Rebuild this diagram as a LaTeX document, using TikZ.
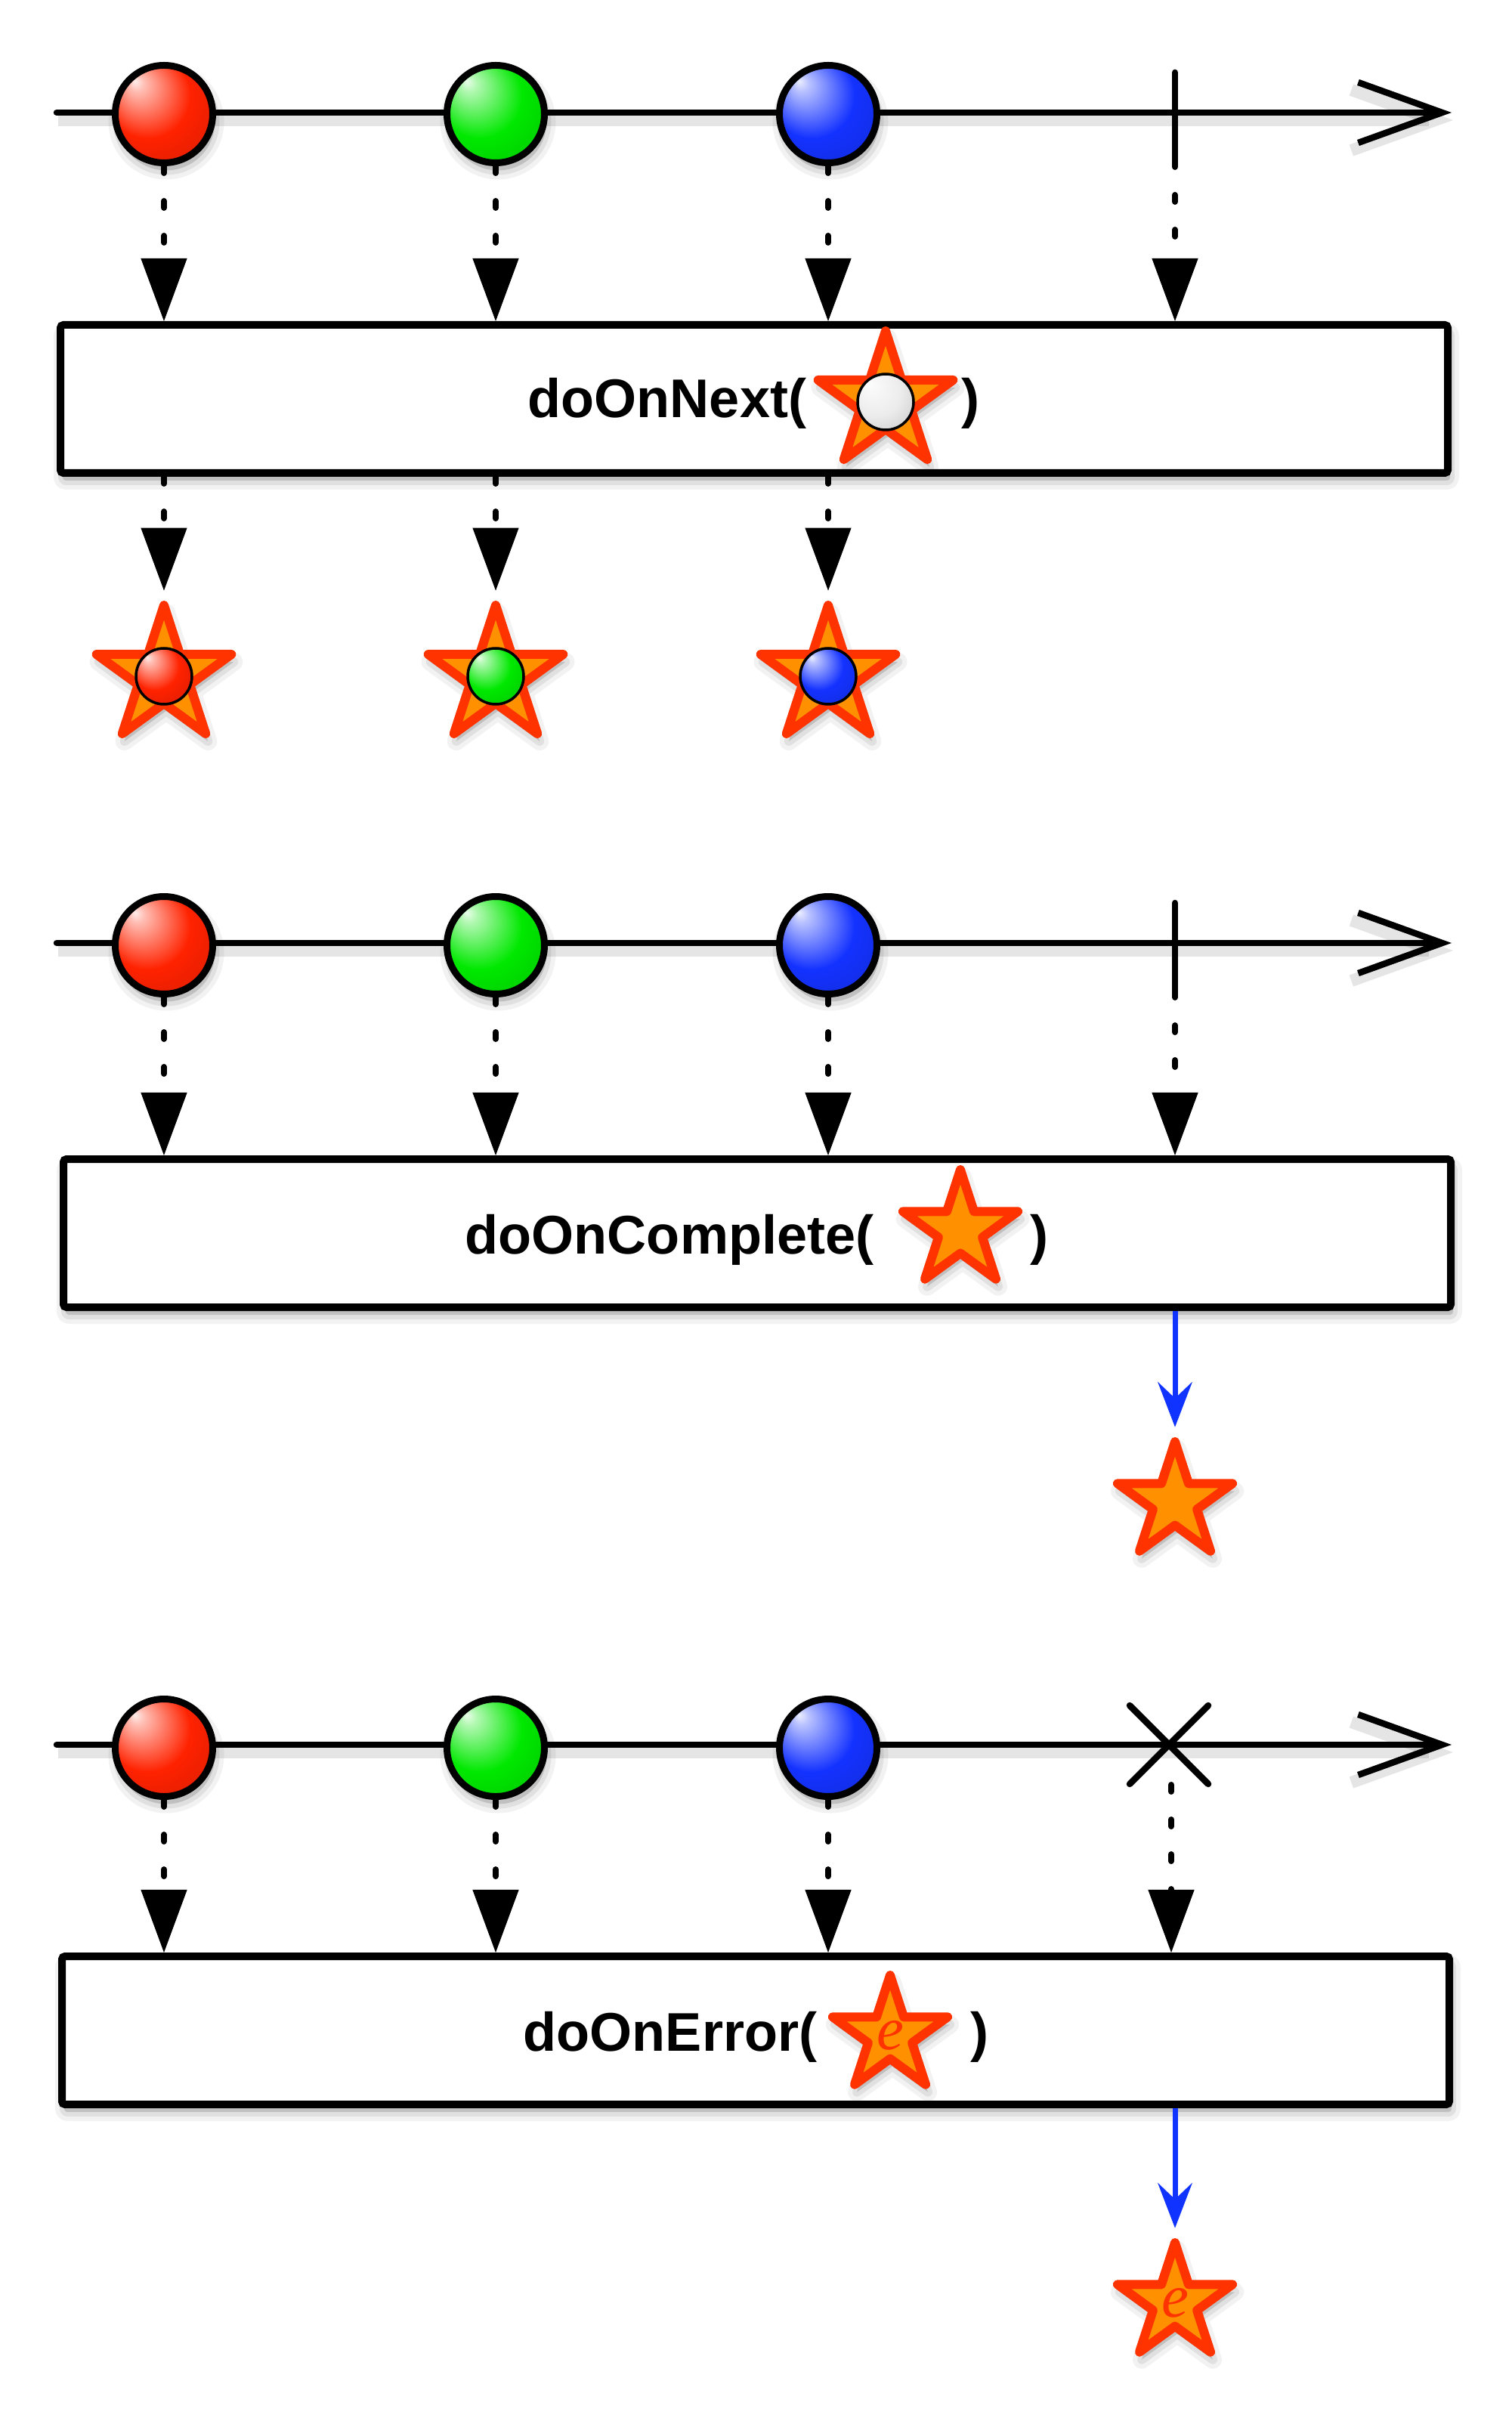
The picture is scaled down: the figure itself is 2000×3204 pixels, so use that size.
\documentclass[tikz,border=0pt]{standalone}
\usepackage{fontspec}
\newfontfamily\lblfont{Liberation Sans}
\newfontfamily\efont{Liberation Serif}
\usetikzlibrary{arrows.meta,shapes.geometric}
\newlength\pxu
\setlength\pxu{0.01cm}
\definecolor{ballred}{RGB}{255,34,0}
\definecolor{ballgreen}{RGB}{0,232,0}
\definecolor{ballblue}{RGB}{20,50,255}
\definecolor{ballwhite}{RGB}{236,236,236}
\definecolor{starred}{RGB}{255,51,0}
\definecolor{starorange}{RGB}{255,145,0}
\definecolor{arrowblue}{RGB}{17,51,255}
\colorlet{ballc}{red}
\pgfdeclareradialshading[ballc]{glossyball}{\pgfqpoint{-15bp}{17bp}}{%
  color(0bp)=(ballc!8!white); color(4bp)=(ballc!30!white); color(22bp)=(ballc);
  color(40bp)=(ballc!85!black); color(50bp)=(ballc!62!black)}
\tikzset{
  softshadow/.style={
    preaction={draw=black, draw opacity=0.05, line width=24\pxu, line join=round,
      transform canvas={xshift=3\pxu, yshift=-10\pxu}},
    preaction={draw=black, draw opacity=0.07, line width=12\pxu, line join=round,
      fill=black, fill opacity=0.14, transform canvas={xshift=3\pxu, yshift=-10\pxu}}},
  lineshadow/.style={preaction={draw=black, draw opacity=0.10, line width=16\pxu,
      transform canvas={xshift=2\pxu, yshift=-10\pxu}}},
  timeline/.style={line width=8.5\pxu, line cap=round, lineshadow,
    -{Straight Barb[length=1.11cm, width=0.8cm]}},
  tickline/.style={line width=8.5\pxu, line cap=round},
  ball/.style={circle, draw=black, line width=9\pxu, minimum size=129\pxu, inner sep=0pt,
    shade, shading=glossyball, /utils/exec={\colorlet{ballc}{#1}}, softshadow},
  smallball/.style={circle, draw=black, line width=3.5\pxu, minimum size=74\pxu, inner sep=0pt,
    shade, shading=glossyball, /utils/exec={\colorlet{ballc}{#1}}},
  starbase/.style={star, star points=5, star point ratio=2.618, inner sep=0pt,
    draw=starred, fill=starorange, line width=12\pxu, line join=round, softshadow},
  bigstar/.style={starbase, minimum size=188\pxu},
  smallstar/.style={starbase, minimum size=160\pxu},
  opbox/.style={draw=black, fill=white, line width=10\pxu, rounded corners=4\pxu,
    inner sep=0pt, minimum width=1836\pxu, minimum height=196\pxu, softshadow},
  flowarrow/.style={line width=8\pxu, line cap=round, dash pattern=on 9\pxu off 37\pxu,
    -{Triangle[length=0.83cm, width=0.61cm, line width=0.01cm]}},
  bluearrow/.style={draw=arrowblue, line width=7\pxu,
    -{Stealth[length=0.6cm, width=0.46cm, inset=0.22cm, line width=0.01cm]}},
  lbl/.style={font=\lblfont\bfseries\fontsize{20.5pt}{24pt}\selectfont, inner sep=0pt,
    anchor=base west},
  elbl/.style={font=\efont\itshape\fontsize{23pt}{26pt}\selectfont, text=starred, inner sep=0pt}
}
\begin{document}
\begin{tikzpicture}[x=1\pxu, y=-1\pxu]
\fill[white] (0,0) rectangle (2000,3204);
\useasboundingbox (0,0) rectangle (2000,3204);

% ================= Section 1: doOnNext =================
\coordinate (tl1s) at (75,149);
\coordinate (tl1e) at (1921,149);
\draw[timeline] (tl1s) -- (tl1e);
\coordinate (tk1t) at (1555,96);
\coordinate (tk1b) at (1555,212);
\draw[tickline] (tk1t) -- (tk1b);
\node[ball=ballred] (b1r) at (217,151) {};
\node[ball=ballgreen] (b1g) at (656,151) {};
\node[ball=ballblue] (b1b) at (1096,151) {};
\node[opbox] (box1) at (998,528) {};
\draw[flowarrow] (b1r) -- (b1r |- box1.north);
\draw[flowarrow] (b1g) -- (b1g |- box1.north);
\draw[flowarrow] (b1b) -- (b1b |- box1.north);
\draw[flowarrow] (tk1b) -- (tk1b |- box1.north);
\node[lbl] (n1a) at (698,553) {doOnNext(};
\node[bigstar] (s1) at (1172,532) {};
\node[smallball=ballwhite] (w1) at (s1) {};
\node[lbl] (n1b) at (1272,553) {)};
\node[bigstar] (s1r) at (217,895) {};
\node[smallball=ballred] (s1rb) at (s1r) {};
\node[bigstar] (s1g) at (656,895) {};
\node[smallball=ballgreen] (s1gb) at (s1g) {};
\node[bigstar] (s1b) at (1096,895) {};
\node[smallball=ballblue] (s1bb) at (s1b) {};
\draw[flowarrow] (s1r |- box1.south) -- (s1r);
\draw[flowarrow] (s1g |- box1.south) -- (s1g);
\draw[flowarrow] (s1b |- box1.south) -- (s1b);

% ================= Section 2: doOnComplete =================
\coordinate (tl2s) at (75,1248);
\coordinate (tl2e) at (1921,1248);
\draw[timeline] (tl2s) -- (tl2e);
\coordinate (tk2t) at (1555,1195);
\coordinate (tk2b) at (1555,1311);
\draw[tickline] (tk2t) -- (tk2b);
\node[ball=ballred] (b2r) at (217,1251) {};
\node[ball=ballgreen] (b2g) at (656,1251) {};
\node[ball=ballblue] (b2b) at (1096,1251) {};
\node[opbox] (box2) at (1002,1632) {};
\draw[flowarrow] (b2r) -- (b2r |- box2.north);
\draw[flowarrow] (b2g) -- (b2g |- box2.north);
\draw[flowarrow] (b2b) -- (b2b |- box2.north);
\draw[flowarrow] (tk2b) -- (tk2b |- box2.north);
\node[lbl] (n2a) at (615,1659) {doOnComplete(};
\node[smallstar] (s2) at (1271,1628) {};
\node[lbl] (n2b) at (1363,1659) {)};
\node[smallstar] (s2o) at (1555,1988) {};
\draw[bluearrow] (s2o |- box2.south) -- (s2o);

% ================= Section 3: doOnError =================
\coordinate (tl3s) at (75,2309);
\coordinate (tl3e) at (1921,2309);
\draw[timeline] (tl3s) -- (tl3e);
\coordinate (cx1) at (1495,2257);
\coordinate (cx2) at (1599,2361);
\coordinate (cx3) at (1599,2257);
\coordinate (cx4) at (1495,2361);
\draw[tickline] (cx1) -- (cx2);
\draw[tickline] (cx3) -- (cx4);
\node[ball=ballred] (b3r) at (217,2313) {};
\node[ball=ballgreen] (b3g) at (656,2313) {};
\node[ball=ballblue] (b3b) at (1096,2313) {};
\node[opbox] (box3) at (1000,2687) {};
\coordinate (cx5) at (1550,2362);
\draw[flowarrow] (b3r) -- (b3r |- box3.north);
\draw[flowarrow] (b3g) -- (b3g |- box3.north);
\draw[flowarrow] (b3b) -- (b3b |- box3.north);
\draw[flowarrow] (cx5) -- (cx5 |- box3.north);
\node[lbl] (n3a) at (692,2714) {doOnError(};
\node[smallstar] (s3) at (1178,2694) {};
\node[elbl] (e3) at (s3) {e};
\node[lbl] (n3b) at (1284,2714) {)};
\node[smallstar] (s3o) at (1555,3048) {};
\node[elbl] (e3o) at (s3o) {e};
\draw[bluearrow] (s3o |- box3.south) -- (s3o);
\end{tikzpicture}
\end{document}
